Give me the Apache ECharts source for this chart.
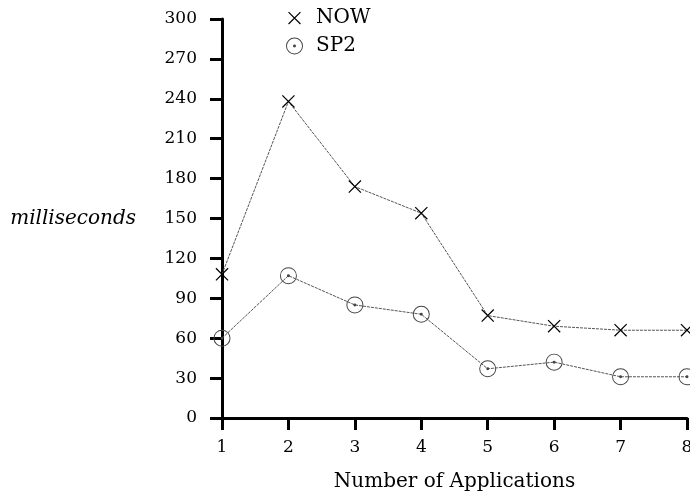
<!DOCTYPE html>
<html>
<head>
<meta charset="utf-8">
<script src="https://cdn.jsdelivr.net/npm/echarts@6/dist/echarts.min.js"></script>
<style>
  html, body { margin: 0; padding: 0; background: #fff; overflow: hidden; }
  #chart { width: 690px; height: 499px; }
</style>
</head>
<body>
<div id="chart"></div>
<script>
// Number of concurrently running applications
const applications = [1, 2, 3, 4, 5, 6, 7, 8];
// Time per operation in milliseconds
const nowValues = [108, 238, 174, 154, 77, 69, 66, 66];
const sp2Values = [60, 107, 85, 78, 37, 42, 31, 31];
// Y axis ticks
const yTicks = [0, 30, 60, 90, 120, 150, 180, 210, 240, 270, 300];

// marker shapes: a thin "x" and a circle with a centre dot
const crossPath = 'path://M0,0.8L0.8,0L12,11.2L11.2,12Z M11.2,0L12,0.8L0.8,12L0,11.2Z';
// same cross, padded with empty corners so the legend keeps it small
const crossLegendPath = 'path://M-2,-2L-2,-2Z M14,14L14,14Z M0,0.8L0.8,0L12,11.2L11.2,12Z M11.2,0L12,0.8L0.8,12L0,11.2Z';
const ringPath = 'path://M8,0A8,8 0 1,1 8,16A8,8 0 1,1 8,0Z M8,0.9A7.1,7.1 0 1,0 8,15.1A7.1,7.1 0 1,0 8,0.9Z M8,6.6A1.4,1.4 0 1,1 8,9.4A1.4,1.4 0 1,1 8,6.6Z';

const serif = 'DejaVu Serif';

const pairs = (xs, ys) => xs.map((x, i) => [x, ys[i]]);

const chart = echarts.init(document.getElementById('chart'), null, { renderer: 'canvas', width: 690, height: 499 });
chart.setOption({
  backgroundColor: '#fff',
  animation: false,
  grid: {
    left: 222, width: 465, top: 19, height: 399,
    containLabel: false,
    outerBoundsMode: 'none'
  },
  legend: {
    orient: 'vertical',
    left: 281,
    top: 3,
    itemWidth: 17,
    itemHeight: 17,
    itemGap: 8,
    textStyle: { fontFamily: serif, fontSize: 20, color: '#000', padding: [0, 0, 0, 8] },
    data: [
      { name: 'NOW', icon: crossLegendPath },
      { name: 'SP2', icon: ringPath }
    ]
  },
  xAxis: {
    type: 'value',
    min: 1,
    max: 8,
    interval: 1,
    name: 'Number of Applications',
    nameLocation: 'middle',
    nameGap: 54,
    nameTextStyle: { fontFamily: serif, fontSize: 20, color: '#000' },
    splitLine: { show: false },
    axisLine: { lineStyle: { color: '#000', width: 3 } },
    axisTick: { length: 12, lineStyle: { color: '#000', width: 3 } },
    axisLabel: { fontFamily: serif, fontSize: 17, color: '#000', margin: 21 }
  },
  yAxis: {
    type: 'value',
    min: yTicks[0],
    max: yTicks[yTicks.length - 1],
    interval: 30,
    name: 'milliseconds',
    nameLocation: 'middle',
    nameRotate: 0,
    nameGap: 86,
    nameTextStyle: { fontFamily: serif, fontSize: 20, fontStyle: 'italic', color: '#000', align: 'right' },
    splitLine: { show: false },
    axisLine: { lineStyle: { color: '#000', width: 3 } },
    axisTick: { length: 12, lineStyle: { color: '#000', width: 3 } },
    axisLabel: { fontFamily: serif, fontSize: 17, color: '#000', margin: 25 }
  },
  series: [
    {
      name: 'NOW',
      type: 'line',
      data: pairs(applications, nowValues),
      symbol: crossPath,
      symbolSize: 13,
      itemStyle: { color: '#000' },
      lineStyle: { color: '#555', width: 1, type: [3, 1] },
      z: 3
    },
    {
      name: 'SP2',
      type: 'line',
      data: pairs(applications, sp2Values),
      symbol: ringPath,
      symbolSize: 17,
      itemStyle: { color: '#444' },
      lineStyle: { color: '#555', width: 1, type: [3, 1] },
      z: 3
    }
  ]
});
</script>
</body>
</html>
